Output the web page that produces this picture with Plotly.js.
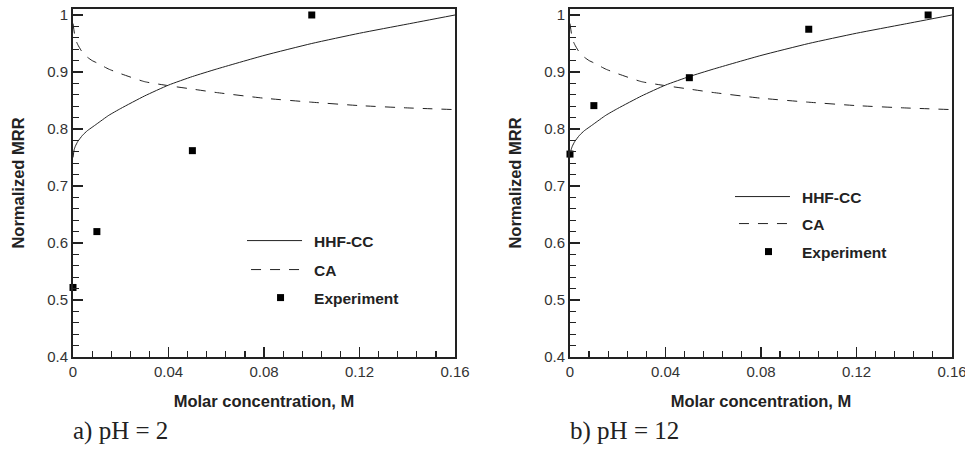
<!DOCTYPE html>
<html><head><meta charset="utf-8">
<script src="https://cdn.plot.ly/plotly-3.0.1.min.js"></script>
<style>html,body{margin:0;padding:0;background:#fff}</style>
</head><body><div id="chart" style="width:965px;height:455px"></div>
<script>
// Model curves (identical in both panels)
const hhfccX = [0, 0.0005, 0.001, 0.002, 0.004, 0.006, 0.008, 0.01, 0.015, 0.02, 0.03, 0.04, 0.05, 0.06, 0.08, 0.10, 0.12, 0.14, 0.16];
const hhfccY = [0.750, 0.764, 0.770, 0.778, 0.789, 0.797, 0.803, 0.809, 0.824, 0.836, 0.858, 0.877, 0.892, 0.905, 0.929, 0.950, 0.968, 0.984, 1.000];
const caX = [0, 0.001, 0.002, 0.004, 0.006, 0.008, 0.01, 0.015, 0.02, 0.03, 0.04, 0.05, 0.06, 0.08, 0.10, 0.12, 0.14, 0.16];
const caY = [0.985, 0.958, 0.948, 0.934, 0.926, 0.920, 0.916, 0.905, 0.897, 0.883, 0.876, 0.870, 0.864, 0.854, 0.847, 0.841, 0.837, 0.834];
// Experiments
const expXa = [0, 0.01, 0.05, 0.10];
const expYa = [0.522, 0.620, 0.762, 1.000];
const expXb = [0, 0.01, 0.05, 0.10, 0.15];
const expYb = [0.756, 0.841, 0.890, 0.975, 1.000];
const seriesNames = ['HHF-CC', 'CA', 'Experiment'];
const panelLabels = ['a) pH = 2', 'b) pH = 12'];
const xTitle = 'Molar concentration, M';
const yTitle = 'Normalized MRR';

const INK = '#222';
const SANS = 'Liberation Sans, Arial, sans-serif';
const lineStyle = {color: INK, width: 1, shape: 'spline', smoothing: 0.5};
const dashStyle = {color: INK, width: 1, dash: '10px,9px', shape: 'spline', smoothing: 0.5};
const mk = {symbol: 'square', size: 7, color: '#000'};

function panel(xa, ya, expX, expY, lg) {
  return [
    {x: hhfccX, y: hhfccY, xaxis: xa, yaxis: ya, mode: 'lines', name: seriesNames[0], line: lineStyle, legend: lg[0]},
    {x: caX, y: caY, xaxis: xa, yaxis: ya, mode: 'lines', name: seriesNames[1], line: dashStyle, legend: lg[1]},
    {x: expX, y: expY, xaxis: xa, yaxis: ya, mode: 'markers', name: seriesNames[2], marker: mk, legend: lg[2], cliponaxis: false}
  ];
}
const data = [].concat(
  panel('x', 'y', expXa, expYa, ['legend', 'legend2', 'legend3']),
  panel('x2', 'y2', expXb, expYb, ['legend4', 'legend5', 'legend6'])
);

function xax(domain, anchor) {
  return {
    domain: domain, anchor: anchor, range: [0, 0.16], tick0: 0, dtick: 0.04,
    showline: true, mirror: true, linewidth: 2, linecolor: INK,
    ticks: 'inside', ticklen: 10, tickwidth: 1.5, tickcolor: INK,
    minor: {dtick: 0.008, tick0: 0, ticks: 'inside', ticklen: 6, tickwidth: 1.2, tickcolor: INK, showgrid: false},
    showgrid: false, zeroline: false, fixedrange: true, ticklabeloverflow: 'allow',
    tickfont: {family: SANS, size: 15, color: '#333'},
    title: {text: xTitle, font: {family: SANS, size: 16.5, color: INK, weight: 'bold'}, standoff: 16}
  };
}
function yax(domain, anchor) {
  return {
    domain: domain, anchor: anchor, range: [0.4, 1.0105], tick0: 0.4, dtick: 0.1,
    showline: true, mirror: true, linewidth: 2, linecolor: INK,
    ticks: 'inside', ticklen: 10, tickwidth: 1.5, tickcolor: INK,
    minor: {dtick: 0.02, tick0: 0.4, ticks: 'inside', ticklen: 6, tickwidth: 1.2, tickcolor: INK, showgrid: false},
    showgrid: false, zeroline: false, fixedrange: true, ticklabeloverflow: 'allow',
    tickfont: {family: SANS, size: 15, color: '#333'},
    title: {text: yTitle, font: {family: SANS, size: 16.5, color: INK, weight: 'bold'}, standoff: 18}
  };
}
function leg(x, y) {
  return {x: x, y: y, xref: 'paper', yref: 'paper', xanchor: 'left', yanchor: 'middle',
    bgcolor: 'rgba(0,0,0,0)', borderwidth: 0, itemwidth: 57, itemclick: false, itemdoubleclick: false,
    font: {family: SANS, size: 15.5, color: INK, weight: 'bold'}};
}

const layout = {
  width: 965, height: 455,
  margin: {l: 73, r: 13, t: 9, b: 98},
  paper_bgcolor: '#fff', plot_bgcolor: '#fff',
  showlegend: true,
  xaxis: xax([0, 0.4346], 'y'),
  yaxis: yax([0, 1], 'x'),
  xaxis2: xax([0.5654, 1], 'y2'),
  yaxis2: yax([0, 1], 'x2'),
  legend: leg(0.198, 0.3333),
  legend2: leg(0.198, 0.25),
  legend3: leg(0.198, 0.1695),
  legend4: leg(0.7531, 0.4598),
  legend5: leg(0.7531, 0.3822),
  legend6: leg(0.7531, 0.3017),
  annotations: [
    {text: panelLabels[0], xref: 'paper', yref: 'paper', x: -0.002, y: -0.213, xanchor: 'left', yanchor: 'middle', showarrow: false,
     font: {family: 'Liberation Serif, Times New Roman, serif', size: 25, color: INK}},
    {text: panelLabels[1], xref: 'paper', yref: 'paper', x: 0.5631, y: -0.213, xanchor: 'left', yanchor: 'middle', showarrow: false,
     font: {family: 'Liberation Serif, Times New Roman, serif', size: 25, color: INK}}
  ]
};

Plotly.newPlot('chart', data, layout, {displayModeBar: false, staticPlot: true}).then(function () {
  // lengthen legend line samples to match the reference (70 px, centred on the marker column)
  document.querySelectorAll('.legendlines path').forEach(function (p) {
    p.setAttribute('d', 'M-15,0h70');
  });
});
</script>
</body></html>
